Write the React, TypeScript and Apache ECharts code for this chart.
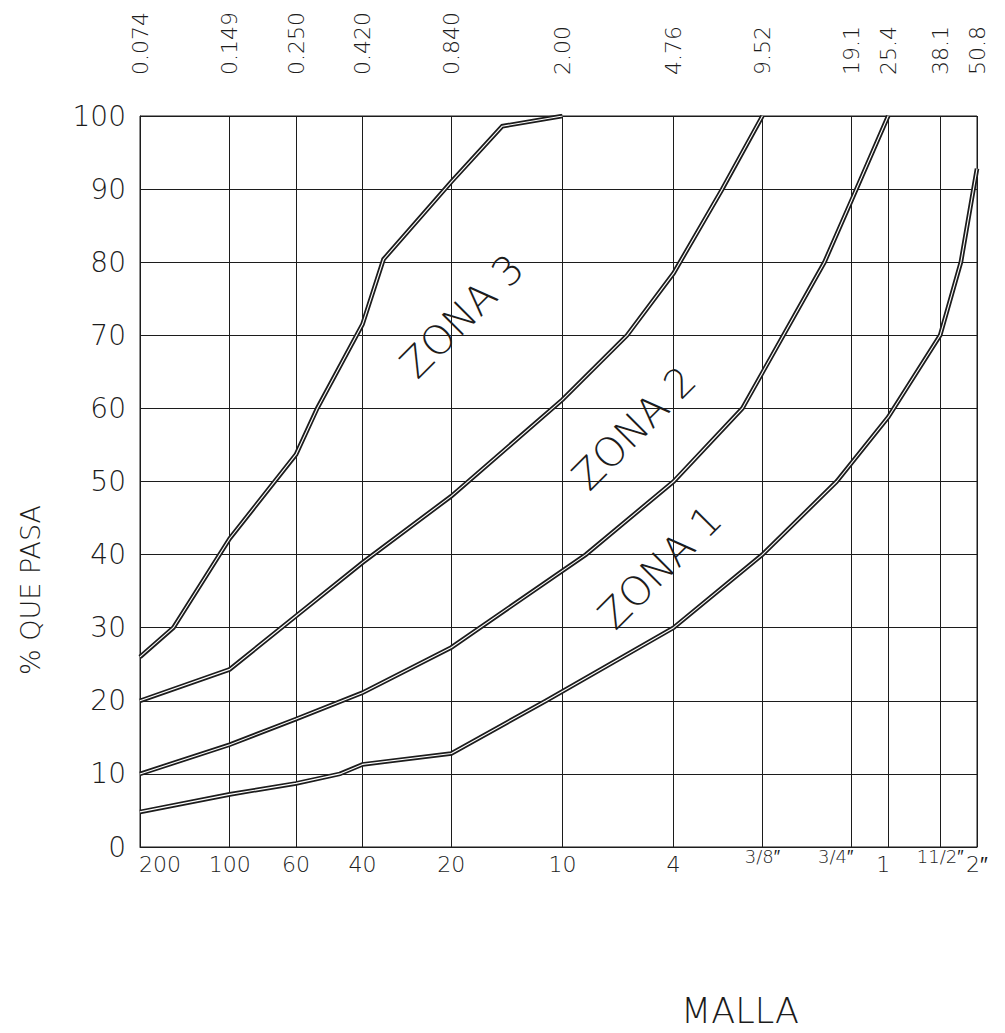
import React, { useEffect, useRef } from "react";
import * as echarts from "echarts";

// Sieve openings (mm) – gridlines of the log x axis
const sieveMm = [0.074, 0.149, 0.25, 0.42, 0.84, 2.0, 4.76, 9.52, 19.1, 25.4, 38.1, 50.8];
const sieveMmLabels = ["0.074", "0.149", "0.250", "0.420", "0.840", "2.00", "4.76", "9.52", "19.1", "25.4", "38.1", "50.8"];
const meshLabels = ["200", "100", "60", "40", "20", "10", "4", "3/8″", "3/4″", "1", "11/2″", "2″"];

// Curves (x = opening in mm, y = % passing)
const curve1X = [0.074, 0.149, 0.25, 0.352, 0.42, 0.84, 1.76, 4.76, 9.52, 17.0, 25.4, 38.1, 44.8, 50.8];
const curve1Y = [4.8, 7.2, 8.7, 10, 11.3, 12.8, 20, 30, 40, 50, 58.8, 70, 80, 92.8];

const curve2X = [0.074, 0.149, 0.25, 0.42, 0.84, 2.4, 4.76, 8.14, 15.45, 19.1, 25.4];
const curve2Y = [10, 14, 17.5, 21.1, 27.3, 40, 50, 60, 80, 88.5, 100];

const curve3X = [0.074, 0.149, 0.25, 0.42, 0.84, 2.0, 3.31, 4.76, 6.96, 9.52];
const curve3Y = [20, 24.3, 31.6, 38.9, 48, 61.2, 70, 78.5, 90, 100];

const curve4X = [0.074, 0.096, 0.149, 0.25, 0.295, 0.42, 0.495, 0.84, 1.25, 2.0];
const curve4Y = [26, 30, 42.2, 53.7, 60, 71.5, 80.4, 91, 98.6, 100];

const zoneLabels = ["ZONA 3", "ZONA 2", "ZONA 1"];

const FONT = '"DejaVu Sans", sans-serif';
const INK = "#1c1c1c";
const TW = 200;

function nearestIndex(v: number): number {
  let best = 0;
  let bd = Infinity;
  sieveMm.forEach((s, i) => {
    const d = Math.abs(Math.log(v) - Math.log(s));
    if (d < bd) {
      bd = d;
      best = i;
    }
  });
  return best;
}

function pairs(xs: number[], ys: number[]) {
  return xs.map((x, i) => [x, ys[i]]);
}

export default function App() {
  const ref = useRef<HTMLDivElement>(null);

  useEffect(() => {
    const chart = echarts.init(ref.current!, null, { renderer: "svg" });

    const curves = [
      pairs(curve1X, curve1Y),
      pairs(curve2X, curve2Y),
      pairs(curve3X, curve3Y),
      pairs(curve4X, curve4Y),
    ];

    const series: any[] = [];
    curves.forEach((d, i) => {
      series.push({
        type: "line",
        name: "c" + i + "o",
        data: d,
        symbol: "none",
        silent: true,
        lineStyle: { color: INK, width: 4.6, join: "miter" },
        z: 3,
      });
      series.push({
        type: "line",
        name: "c" + i + "i",
        data: d,
        symbol: "none",
        silent: true,
        lineStyle: { color: "#ffffff", width: 1.1 },
        z: 4,
      });
    });

    const bottomRich: Record<string, any> = {};
    const pad: Record<number, number[]> = {
      0: [6, 0, 0, 40],
      7: [0, 0, 0, 0],
      8: [0, 32, 0, 0],
      9: [6, 10, 0, 0],
      10: [0, 0, 0, 0],
      11: [6, 0, 0, 0],
    };
    meshLabels.forEach((lab, i) => {
      const isFrac = lab.includes("/");
      bottomRich["s" + i] = {
        fontSize: isFrac ? 18 : 22,
        fontFamily: FONT,
        fontWeight: TW,
        color: INK,
        padding: pad[i] || [6, 0, 0, 0],
      };
    });

    const option: any = {
      animation: false,
      backgroundColor: "#ffffff",
      grid: {
        left: 140,
        right: 28,
        top: 116,
        bottom: 186,
        show: true,
        borderColor: INK,
        borderWidth: 1,
        containLabel: false,
      },
      xAxis: [
        {
          type: "log",
          logBase: 10,
          position: "bottom",
          min: sieveMm[0],
          max: sieveMm[sieveMm.length - 1],
          axisLine: { show: true, lineStyle: { color: INK, width: 1 } },
          axisTick: { show: false, customValues: sieveMm },
          splitLine: { show: true, lineStyle: { color: INK, width: 1 } },
          minorSplitLine: { show: false },
          axisLabel: {
            customValues: sieveMm,
            showMinLabel: true,
            showMaxLabel: true,
            hideOverlap: false,
            margin: 0,
            fontFamily: FONT,
            fontWeight: TW,
            fontSize: 22,
            color: INK,
            formatter: (v: number) => {
              const i = nearestIndex(v);
              return "{s" + i + "|" + meshLabels[i] + "}";
            },
            rich: bottomRich,
          },
        },
        {
          type: "log",
          logBase: 10,
          position: "top",
          min: sieveMm[0],
          max: sieveMm[sieveMm.length - 1],
          axisLine: { show: false },
          axisTick: { show: false, customValues: sieveMm },
          splitLine: { show: false },
          axisLabel: {
            customValues: sieveMm,
            showMinLabel: true,
            showMaxLabel: true,
            rotate: -90,
            margin: 41,
            fontFamily: FONT,
            fontWeight: TW,
            fontSize: 22,
            color: INK,
            formatter: (v: number) => sieveMmLabels[nearestIndex(v)],
          },
        },
      ],
      yAxis: {
        type: "value",
        min: 0,
        max: 100,
        interval: 10,
        axisLine: { show: true, lineStyle: { color: INK, width: 1 } },
        axisTick: { show: false },
        splitLine: { show: true, lineStyle: { color: INK, width: 1 } },
        axisLabel: {
          margin: 14,
          fontFamily: FONT,
          fontWeight: TW,
          fontSize: 28,
          color: INK,
        },
      },
      series,
      graphic: [
        {
          type: "text",
          x: 462,
          y: 316,
          rotation: Math.PI / 4,
          z: 10,
          style: { text: zoneLabels[0], fontFamily: FONT, fontSize: 40, fontWeight: TW, fill: INK, align: "center", verticalAlign: "middle" },
        },
        {
          type: "text",
          x: 634,
          y: 428,
          rotation: Math.PI / 4,
          z: 10,
          style: { text: zoneLabels[1], fontFamily: FONT, fontSize: 40, fontWeight: TW, fill: INK, align: "center", verticalAlign: "middle" },
        },
        {
          type: "text",
          x: 660,
          y: 567,
          rotation: Math.PI / 4,
          z: 10,
          style: { text: zoneLabels[2], fontFamily: FONT, fontSize: 40, fontWeight: TW, fill: INK, align: "center", verticalAlign: "middle" },
        },
        {
          type: "text",
          x: 30,
          y: 590,
          rotation: Math.PI / 2,
          style: { text: "% QUE PASA", fontFamily: FONT, fontSize: 27, fontWeight: TW, fill: INK, align: "center", verticalAlign: "middle" },
        },
        {
          type: "text",
          x: 740,
          y: 1011,
          style: { text: "MALLA", fontFamily: FONT, fontSize: 35, fontWeight: TW, fill: INK, align: "center", verticalAlign: "middle" },
        },
      ],
    };

    chart.setOption(option);
    return () => chart.dispose();
  }, []);

  return (
    <div
      ref={ref}
      style={{ position: "fixed", left: 0, top: 0, width: 1005, height: 1033, background: "#fff" }}
    />
  );
}
